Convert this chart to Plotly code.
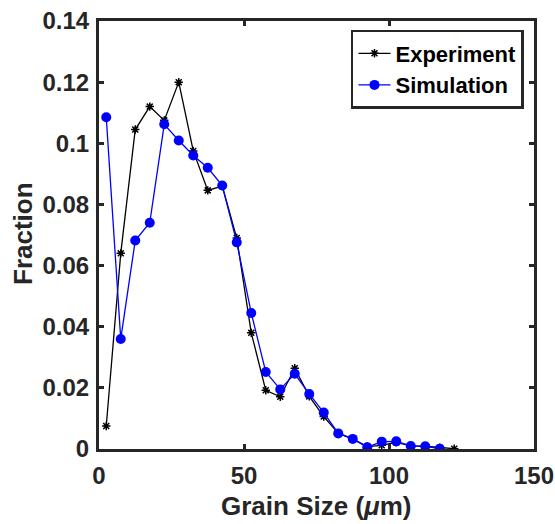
import plotly.graph_objects as go

exp_x = [2.5, 7.5, 12.5, 17.5, 22.5, 27.5, 32.5, 37.5, 42.5, 47.5, 52.5, 57.5, 62.5,
         67.5, 72.5, 77.5, 82.5, 87.5, 92.5, 97.5, 102.5, 107.5, 112.5, 117.5, 122.5]
exp_y = [0.0075, 0.064, 0.1045, 0.112, 0.1075, 0.12, 0.0975, 0.0846, 0.086, 0.069, 0.038,
         0.0192, 0.0171, 0.0264, 0.0172, 0.0106, 0.0052, 0.0033, 0.0008, 0.0012, 0.0022,
         0.0010, 0.0009, 0.0004, 0.0001]
sim_x = [2.5, 7.5, 12.5, 17.5, 22.5, 27.5, 32.5, 37.5, 42.5, 47.5, 52.5, 57.5, 62.5,
         67.5, 72.5, 77.5, 82.5, 87.5, 92.5, 97.5, 102.5, 107.5, 112.5, 117.5]
sim_y = [0.1085, 0.036, 0.0682, 0.074, 0.1062, 0.1009, 0.096, 0.092, 0.0862, 0.0676, 0.0445,
         0.0252, 0.0195, 0.0246, 0.018, 0.0119, 0.0051, 0.0033, 0.0006, 0.0024, 0.0025,
         0.0010, 0.0009, 0.0001]

y_ticks = [0, 0.02, 0.04, 0.06, 0.08, 0.1, 0.12, 0.14]
y_labels = ["0", "0.02", "0.04", "0.06", "0.08", "0.1", "0.12", "0.14"]
x_ticks = [0, 50, 100, 150]

FONT = "Liberation Sans, Arial, sans-serif"
INK = "#262626"

fig = go.Figure()
fig.add_trace(go.Scatter(
    x=exp_x, y=exp_y, mode="lines+markers", name="<b>Experiment</b>",
    line=dict(color="black", width=1.3),
    marker=dict(symbol="asterisk-open", size=7, color="black", line=dict(width=1.5, color="black")),
))
fig.add_trace(go.Scatter(
    x=sim_x, y=sim_y, mode="lines+markers", name="<b>Simulation</b>",
    line=dict(color="#0000ff", width=1.3),
    marker=dict(symbol="circle", size=10, color="#0000ff"),
))

axis_common = dict(
    showline=True, linecolor=INK, linewidth=3, mirror="ticks",
    ticks="inside", ticklen=5, tickwidth=3, tickcolor=INK,
    showgrid=False, zeroline=False, automargin=False,
    ticklabeloverflow="allow",
    tickfont=dict(family=FONT, size=24, color=INK),
)

fig.update_layout(
    width=555, height=524,
    paper_bgcolor="white", plot_bgcolor="white",
    margin=dict(l=99, r=21, t=21, b=75),
    showlegend=True,
    legend=dict(
        x=0.977, y=0.979, xanchor="right", yanchor="top",
        bgcolor="white", bordercolor=INK, borderwidth=2.5,
        font=dict(family=FONT, size=22, color="black"),
        tracegroupgap=0, itemwidth=32,
    ),
    font=dict(family=FONT, color=INK),
    annotations=[
        dict(text="<b>Grain Size (<i>μ</i>m)</b>", x=0.5, y=0, xref="paper", yref="paper",
             xanchor="center", yanchor="middle", yshift=-57, showarrow=False,
             font=dict(family=FONT, size=26, color=INK)),
        dict(text="<b>Fraction</b>", x=0, y=0.5, xref="paper", yref="paper",
             xanchor="center", yanchor="middle", xshift=-76, yshift=1, textangle=-90,
             showarrow=False, font=dict(family=FONT, size=26, color=INK)),
    ],
)
fig.update_xaxes(
    range=[0, 150], tickvals=x_ticks, ticktext=["<b>%d</b>" % v for v in x_ticks],
    ticklabelstandoff=3,
    **axis_common,
)
fig.update_yaxes(
    range=[0, 0.14], tickvals=y_ticks, ticktext=["<b>%s</b>" % s for s in y_labels],
    ticklabelstandoff=2,
    **axis_common,
)

fig.write_html(
    "out.html",
    config={"displayModeBar": False},
    post_script="document.body.style.margin='0';document.body.style.overflow='hidden';",
)
